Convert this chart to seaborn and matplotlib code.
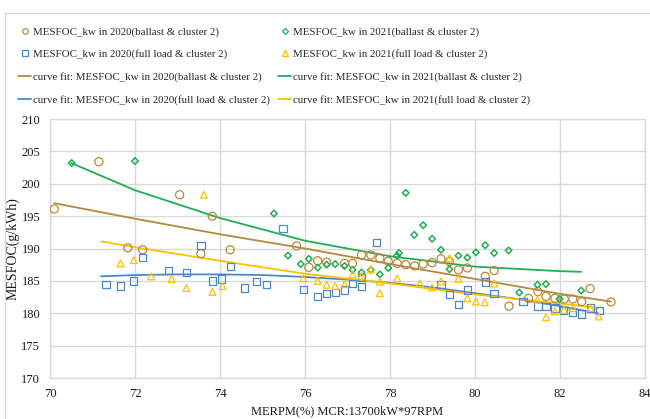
import matplotlib
matplotlib.use("Agg")
import matplotlib.pyplot as plt
from matplotlib.lines import Line2D
from matplotlib.patches import Rectangle
import seaborn as sns

# --- measured points: main-engine RPM load (%) vs specific fuel oil consumption ---
ballast_2020_x = [70.1, 71.15, 71.83, 72.18, 73.05, 73.82, 73.55, 74.24, 75.8, 76.09,
                  76.3, 76.51, 76.93, 77.12, 77.33, 77.55, 77.76, 77.96, 78.17, 78.37,
                  78.58, 78.78, 78.99, 79.2, 79.4, 79.61, 79.82, 80.24, 80.45, 80.8,
                  81.26, 81.48, 81.67, 81.88, 82.1, 82.3, 82.51, 82.71, 83.2]
ballast_2020_y = [196.1, 203.4, 190.1, 189.8, 198.3, 195.0, 189.2, 189.8, 190.4, 187.1,
                  188.1, 187.9, 187.7, 187.7, 189.0, 189.0, 188.5, 188.0, 187.7, 187.5,
                  187.3, 187.6, 187.8, 188.4, 188.0, 186.7, 187.0, 185.7, 186.6, 181.1,
                  182.3, 183.35, 182.6, 182.3, 182.2, 182.2, 181.8, 183.8, 181.75]

ballast_2021_x = [70.51, 72.0, 75.27, 75.6, 75.9, 76.09, 76.3, 76.51, 76.71, 76.93,
                  77.12, 77.33, 77.55, 77.76, 77.96, 78.17, 78.21, 78.37, 78.57, 78.78,
                  78.99, 79.2, 79.4, 79.61, 79.82, 80.02, 80.24, 80.45, 80.79, 81.04,
                  81.47, 81.67, 81.99, 82.5]
ballast_2021_y = [203.2, 203.5, 195.4, 188.9, 187.6, 188.4, 187.05, 187.5, 187.6, 187.3,
                  186.7, 186.3, 186.7, 186.0, 187.0, 188.9, 189.3, 198.6, 192.1, 193.6,
                  191.5, 189.8, 186.8, 188.9, 188.6, 189.4, 190.5, 189.3, 189.7, 183.2,
                  184.4, 184.5, 182.2, 183.5]

full_2020_x = [71.32, 71.66, 71.97, 72.18, 72.79, 73.21, 73.55, 73.82, 74.03, 74.24,
               74.58, 74.86, 75.1, 75.48, 75.97, 76.3, 76.51, 76.71, 76.93, 77.12,
               77.33, 77.33, 77.69, 79.2, 79.4, 79.61, 79.82, 80.24, 80.45, 81.13,
               81.48, 81.67, 81.88, 82.09, 82.3, 82.5, 82.71, 82.93]
full_2020_y = [184.4, 184.2, 185.0, 188.6, 186.6, 186.3, 190.5, 185.0, 185.3, 187.2,
               183.9, 184.9, 184.4, 193.1, 183.7, 182.6, 183.1, 183.2, 183.6, 184.6,
               184.1, 185.5, 190.9, 184.4, 182.9, 181.4, 183.6, 184.85, 183.0, 181.8,
               181.1, 181.0, 180.8, 180.4, 180.2, 179.9, 180.8, 180.4]

full_2021_x = [71.66, 71.97, 72.38, 72.86, 73.21, 73.62, 73.82, 74.06, 75.96, 76.3,
               76.51, 76.71, 76.93, 77.12, 77.33, 77.55, 77.76, 77.76, 78.17, 78.7,
               78.99, 79.2, 79.4, 79.61, 79.82, 80.02, 80.23, 80.45, 81.47, 81.67,
               81.88, 82.09, 82.3, 82.71, 82.91]
full_2021_y = [187.7, 188.2, 185.7, 185.3, 183.9, 198.3, 183.3, 184.2, 185.4, 185.0,
               184.4, 184.2, 184.5, 186.0, 185.8, 186.8, 184.9, 183.1, 185.4, 184.6,
               184.0, 184.9, 188.5, 185.3, 182.3, 181.8, 181.7, 184.6, 182.1, 179.4,
               180.3, 180.5, 180.8, 180.8, 179.5]

# --- fitted trend curves (sampled along each curve) ---
fit_ballast_2020_x = [70.1, 72, 74, 76, 78, 80, 82, 83.2]
fit_ballast_2020_y = [197.0, 194.6, 192.2, 190.0, 187.6, 185.3, 183.0, 181.8]

fit_ballast_2021_x = [70.5, 72, 74, 76, 78, 80, 82, 82.5]
fit_ballast_2021_y = [203.2, 199.0, 194.7, 191.2, 188.8, 187.2, 186.5, 186.4]

fit_full_2020_x = [71.2, 72, 73, 74, 75, 76, 77, 78, 79, 80, 81, 82, 82.9]
fit_full_2020_y = [185.7, 185.9, 186.0, 186.0, 185.9, 185.6, 185.2, 184.7, 184.0, 183.1, 182.2, 181.1, 180.0]

fit_full_2021_x = [71.2, 72, 74, 76, 78, 80, 82, 82.9]
fit_full_2021_y = [191.1, 190.2, 188.1, 186.1, 184.6, 182.9, 181.5, 180.8]

labels_points = ["MESFOC_kw in 2020(ballast & cluster 2)",
                 "MESFOC_kw in 2021(ballast & cluster 2)",
                 "MESFOC_kw in 2020(full load & cluster 2)",
                 "MESFOC_kw in 2021(full load & cluster 2)"]
labels_fits = ["curve fit: " + s for s in labels_points]

x_ticks = [70, 72, 74, 76, 78, 80, 82, 84]
y_ticks = [170, 175, 180, 185, 190, 195, 200, 205, 210]

C_BROWN = "#B8893A"
C_GREEN = "#1FAE52"
C_BLUE = "#4A88CC"
C_GOLD = "#FFC000"
GRID = "#D9D9D9"
TEXT = "#1A1A1A"

sns.set_theme(style="whitegrid")
plt.rcParams["font.family"] = ["Liberation Serif", "DejaVu Serif"]

fig = plt.figure(figsize=(6.5, 4.19), dpi=100)
ax = fig.add_axes([50 / 650, 1 - 378 / 419, 595 / 650, 259 / 419])

# trend curves
sns.lineplot(x=fit_ballast_2020_x, y=fit_ballast_2020_y, ax=ax, color=C_BROWN, lw=1.3, sort=False, estimator=None)
sns.lineplot(x=fit_ballast_2021_x, y=fit_ballast_2021_y, ax=ax, color=C_GREEN, lw=1.3, sort=False, estimator=None)
sns.lineplot(x=fit_full_2020_x, y=fit_full_2020_y, ax=ax, color=C_BLUE, lw=1.3, sort=False, estimator=None)
sns.lineplot(x=fit_full_2021_x, y=fit_full_2021_y, ax=ax, color=C_GOLD, lw=1.3, sort=False, estimator=None)

# hollow scatter markers
sns.scatterplot(x=ballast_2020_x, y=ballast_2020_y, ax=ax, marker="o", s=34,
                facecolor="none", edgecolor=C_BROWN, linewidth=0.9, zorder=3)
sns.scatterplot(x=ballast_2021_x, y=ballast_2021_y, ax=ax, marker="D", s=11,
                facecolor="none", edgecolor=C_GREEN, linewidth=1.1, zorder=3)
sns.scatterplot(x=full_2020_x, y=full_2020_y, ax=ax, marker="s", s=28,
                facecolor="none", edgecolor=C_BLUE, linewidth=0.9, zorder=3)
sns.scatterplot(x=full_2021_x, y=full_2021_y, ax=ax, marker="^", s=24,
                facecolor="none", edgecolor=C_GOLD, linewidth=0.9, zorder=3)

ax.set_xlim(70, 84)
ax.set_ylim(170, 210)
ax.set_xticks(x_ticks)
ax.set_yticks(y_ticks)
ax.grid(True, color=GRID, lw=1)
for sp in ax.spines.values():
    sp.set_color(GRID)
    sp.set_linewidth(1)
ax.tick_params(axis="both", length=0, pad=7, labelsize=9, labelcolor=TEXT)
ax.set_xlabel("MERPM(%) MCR:13700kW*97RPM", fontsize=9, color=TEXT, labelpad=4)
ax.set_ylabel("MESFOC(g/kWh)", fontsize=10, color=TEXT, labelpad=1.5)

# legend: two columns above the plot area
def pt(marker, color, size):
    return Line2D([], [], ls="none", marker=marker, ms=size, mfc="none", mec=color, mew=0.9)

def ln(color):
    return Line2D([], [], color=color, lw=1.3)

handles = [pt("o", C_BROWN, 4.0), pt("s", C_BLUE, 3.8), ln(C_BROWN), ln(C_BLUE),
           pt("D", C_GREEN, 3.0), pt("^", C_GOLD, 4.0), ln(C_GREEN), ln(C_GOLD)]
labels = [labels_points[0], labels_points[2], labels_fits[0], labels_fits[2],
          labels_points[1], labels_points[3], labels_fits[1], labels_fits[3]]
fig.legend(handles, labels, loc="upper left", bbox_to_anchor=(18 / 650, 1 - 27 / 419),
           ncol=2, frameon=False, fontsize=7.8, handlelength=1.2, handletextpad=0.15,
           columnspacing=0.8, labelspacing=1.17, borderpad=0, borderaxespad=0)

# outer chart border
fig.patches.append(Rectangle((5 / 650, -0.1), 1.2, 1.1 - 13 / 419, transform=fig.transFigure,
                             fill=False, ec=GRID, lw=1))

fig.savefig("out.png", dpi=100)
